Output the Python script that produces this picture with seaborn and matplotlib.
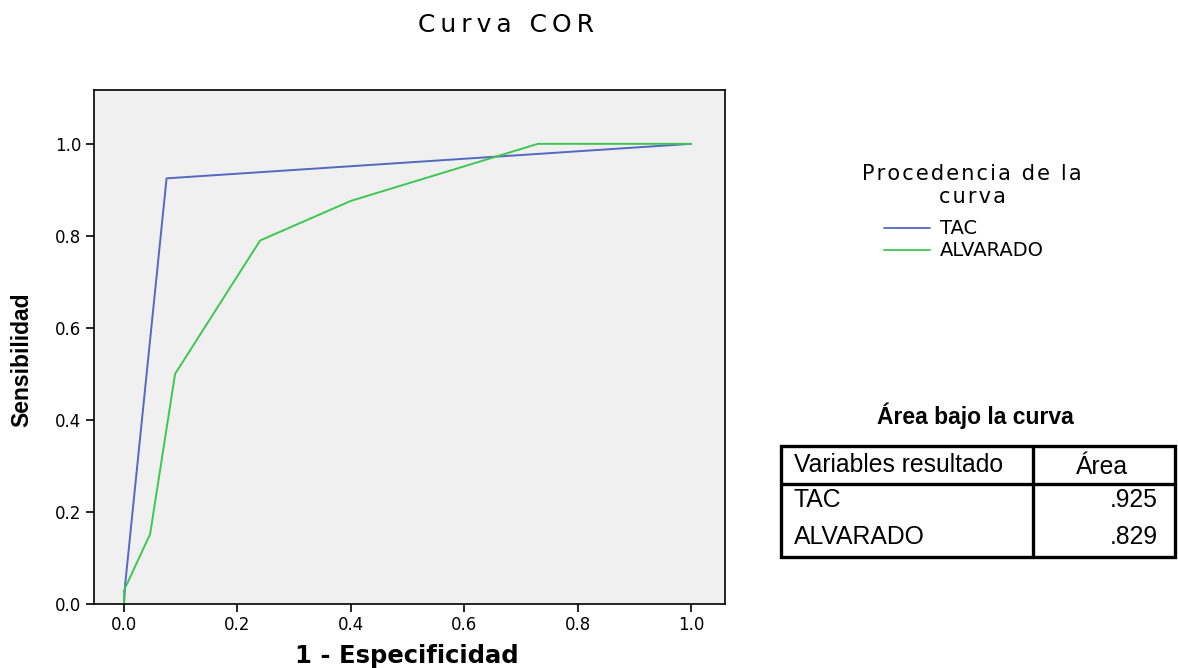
import numpy as np
import pandas as pd
import matplotlib
matplotlib.use("Agg")
import matplotlib.pyplot as plt
import seaborn as sns
from matplotlib.patches import Rectangle
from matplotlib.lines import Line2D

# ---- data ----
tac_fpr = [0.0, 0.002, 0.075, 1.0]
tac_tpr = [0.0, 0.043, 0.925, 1.0]
alv_fpr = [0.0, 0.0, 0.005, 0.046, 0.09, 0.24, 0.40, 0.73, 1.0]
alv_tpr = [0.0, 0.03, 0.043, 0.152, 0.50, 0.79, 0.876, 1.0, 1.0]
series_names = ["TAC", "ALVARADO"]
auc_values = [".925", ".829"]
xticks = [0.0, 0.2, 0.4, 0.6, 0.8, 1.0]
yticks = [0.0, 0.2, 0.4, 0.6, 0.8, 1.0]

df = pd.concat([
    pd.DataFrame({"fpr": tac_fpr, "tpr": tac_tpr, "serie": "TAC"}),
    pd.DataFrame({"fpr": alv_fpr, "tpr": alv_tpr, "serie": "ALVARADO"}),
])

sns.set_theme(style="white")
plt.rcParams['font.family'] = ['DejaVu Sans']

W, H = 1178, 668
fig = plt.figure(figsize=(W / 100, H / 100), dpi=100)
fig.patch.set_facecolor("white")


def fx(px):
    return px / W


def fy(py):
    return 1 - py / H


def spaced(s, sep="\u200a"):
    return sep.join(s)


ax = fig.add_axes([fx(94), fy(604), fx(725) - fx(94), fy(90) - fy(604)])
ax.set_facecolor("#f0f0f0")
palette = {"TAC": "#5468c4", "ALVARADO": "#3cc850"}
for name in series_names:
    sub = df[df.serie == name]
    sns.lineplot(x=sub["fpr"].values, y=sub["tpr"].values, sort=False, estimator=None,
                 color=palette[name], linewidth=1.4, ax=ax)

ax.set_xlim(-0.053, 1.060)
ax.set_ylim(0.0, 1.117)
ax.set_xticks(xticks)
ax.set_yticks(yticks)
ax.set_xticklabels([f"{v:.1f}" for v in xticks], fontsize=12)
ax.set_yticklabels([f"{v:.1f}" for v in yticks], fontsize=12)
ax.tick_params(axis="both", direction="out", length=6, width=1.2, color="black",
               bottom=True, left=True, pad=3, labelcolor="black")
for s in ax.spines.values():
    s.set_visible(True)
    s.set_color("black")
    s.set_linewidth(1.2)
ax.set_xlabel("")
ax.set_ylabel("")

# axis labels & title
fig.text(fx(407), fy(656), "1 - Especificidad", ha="center", va="center",
         fontsize=17.5, fontweight="bold", color="black")
fig.text(fx(22), fy(360), "Sensibilidad", ha="center", va="center", rotation=90,
         fontsize=16.5, fontweight="bold", color="black",
         family=['Liberation Sans', 'DejaVu Sans'])
fig.text(fx(506), fy(25), spaced("Curva COR", "\u2009"),
         ha="center", va="center", fontsize=18, color="black")

overlay = fig.add_axes([0, 0, 1, 1], facecolor="none")
overlay.set_xlim(0, W)
overlay.set_ylim(H, 0)
overlay.axis("off")

# legend
overlay.text(972, 174, spaced("Procedencia de la"), ha="center", va="center",
             fontsize=15, color="black")
overlay.text(972, 197, spaced("curva"), ha="center", va="center",
             fontsize=15, color="black")
for i, name in enumerate(series_names):
    yy = 228 + 22 * i
    overlay.add_line(Line2D([884, 930], [yy, yy], color=palette[name], linewidth=1.3))
    overlay.text(940, yy, name, ha="left", va="center", fontsize=14, color="black")

# AUC table
overlay.text(975, 416, "Área bajo la curva", ha="center", va="center",
             fontsize=16.5, fontweight="bold", color="black",
             family=['Liberation Sans', 'DejaVu Sans'])
overlay.add_patch(Rectangle((781, 446), 394, 111, fill=False, edgecolor="black", linewidth=2.4))
overlay.add_line(Line2D([781, 1175], [484, 484], color="black", linewidth=2.4))
overlay.add_line(Line2D([1033, 1033], [446, 557], color="black", linewidth=2.4))
tfam = ['Liberation Sans', 'DejaVu Sans']
overlay.text(794, 465, "Variables resultado", ha="left", va="center", fontsize=17.8,
             color="black", family=tfam)
overlay.text(1102, 467, "Área", ha="center", va="center", fontsize=17.8, color="black", family=tfam)
for i, (name, val) in enumerate(zip(series_names, auc_values)):
    yy = 500 + 37 * i
    overlay.text(794, yy, name, ha="left", va="center", fontsize=17.8, color="black", family=tfam)
    overlay.text(1158, yy, val, ha="right", va="center", fontsize=17.8, color="black", family=tfam)

fig.savefig("out.png", dpi=100, facecolor="white")
